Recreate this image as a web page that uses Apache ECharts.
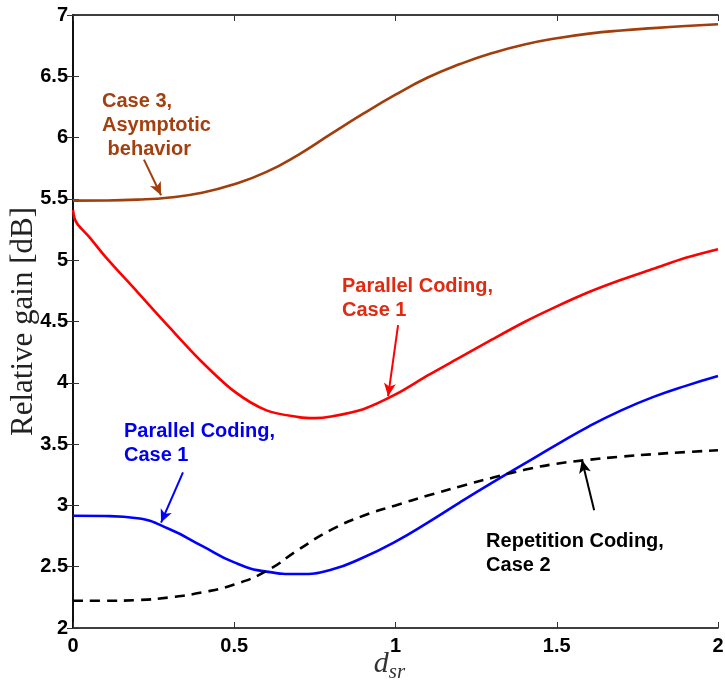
<!DOCTYPE html>
<html>
<head>
<meta charset="utf-8">
<script src="https://cdn.jsdelivr.net/npm/echarts@6/dist/echarts.min.js"></script>
<style>
  html, body { margin: 0; padding: 0; background: #fff; }
  #chart { width: 725px; height: 681px; }
</style>
</head>
<body>
<div id="chart"></div>
<script>
// Relay distance d_sr (shared sample grid)
const dsr = [0, 0.1, 0.2, 0.3, 0.4, 0.5, 0.6, 0.7, 0.8, 0.9, 1.0,
             1.1, 1.2, 1.3, 1.4, 1.5, 1.6, 1.7, 1.8, 1.9, 2.0];

// Case 3, asymptotic behavior
const case3Asym = [5.486, 5.487, 5.494, 5.512, 5.55, 5.62, 5.72, 5.862, 6.03, 6.195, 6.35,
                   6.49, 6.60, 6.69, 6.76, 6.81, 6.848, 6.874, 6.893, 6.91, 6.924];

// Parallel coding, case 1 (upper curve) -- finer grid near the origin
const dsrFine = [0, 0.005, 0.015, 0.05, 0.1, 0.2, 0.3, 0.4, 0.5, 0.6, 0.7, 0.75, 0.8, 0.9, 1.0,
                 1.1, 1.2, 1.3, 1.4, 1.5, 1.6, 1.7, 1.8, 1.9, 2.0];
const parallelUpper = [5.41, 5.34, 5.29, 5.19, 5.03, 4.74, 4.45, 4.17, 3.93, 3.775, 3.72, 3.712, 3.725, 3.785, 3.905,
                       4.06, 4.207, 4.354, 4.496, 4.623, 4.74, 4.84, 4.93, 5.02, 5.09];

// Parallel coding, case 1 (lower curve)
const parallelLower = [2.915, 2.913, 2.895, 2.805, 2.67, 2.535, 2.46, 2.44, 2.475, 2.575, 2.705,
                       2.86, 3.025, 3.185, 3.34, 3.495, 3.645, 3.775, 3.885, 3.975, 4.055];

// Repetition coding, case 2
const repetition = [2.222, 2.222, 2.228, 2.25, 2.29, 2.355, 2.465, 2.64, 2.80, 2.915, 3.0,
                    3.08, 3.155, 3.225, 3.29, 3.34, 3.372, 3.398, 3.418, 3.435, 3.45];

// Axis ticks
const xTicks = [0, 0.5, 1, 1.5, 2];
const yTicks = [2, 2.5, 3, 3.5, 4, 4.5, 5, 5.5, 6, 6.5, 7];

// Annotations: text anchor (top-left) and arrow [tail, head] in data units
const notes = [
  { lines: ['Case 3,', 'Asymptotic', ' behavior'], at: [0.09, 6.39], arrow: [[0.22, 5.82], [0.273, 5.53]], color: '#a23d0c', text: '#a3400f' },
  { lines: ['Parallel Coding,', 'Case 1'], at: [0.834, 4.88], arrow: [[1.008, 4.47], [0.977, 3.89]], color: '#ff0000', text: '#e02a12' },
  { lines: ['Parallel Coding,', 'Case 1'], at: [0.158, 3.70], arrow: [[0.341, 3.27], [0.273, 2.86]], color: '#0000ff', text: '#0000ee' },
  { lines: ['Repetition Coding,', 'Case 2'], at: [1.281, 2.80], arrow: [[1.616, 2.96], [1.578, 3.37]], color: '#000000', text: '#000000' }
];

const pairs = (xs, ys) => xs.map((x, i) => [x, ys[i]]);
const sansBold = { fontFamily: '"Liberation Sans", Arial, sans-serif', fontWeight: 'bold', fontSize: 20, color: '#000' };

function arrowLine(n) {
  return {
    silent: true,
    animation: false,
    symbolSize: [9, 13],
    label: { show: false },
    lineStyle: { color: n.color, width: 2, type: 'solid' },
    data: [[
      { coord: n.arrow[0], symbol: 'none' },
      { coord: n.arrow[1], symbol: 'arrow' }
    ]]
  };
}

const chart = echarts.init(document.getElementById('chart'), null, { renderer: 'canvas' });

const axisLineStyle = { show: true, lineStyle: { color: '#000', width: 1.5 } };
const tickStyle = { show: true, inside: true, length: 6, lineStyle: { color: '#333', width: 1 } };

chart.setOption({
  animation: false,
  backgroundColor: '#fff',
  grid: { left: 73, right: 7, top: 15, bottom: 53, containLabel: false, outerBoundsMode: 'none' },
  xAxis: [
    {
      type: 'value', min: 0, max: 2, interval: 0.5, position: 'bottom',
      axisLine: axisLineStyle, axisTick: tickStyle, splitLine: { show: false },
      axisLabel: Object.assign({ margin: 8, formatter: v => (xTicks.includes(v) ? String(v) : '') }, sansBold),
      name: '{d|d}{s|sr}', nameLocation: 'middle', nameGap: 21, nameMoveOverlap: false,
      nameTextStyle: {
        padding: [0, 12, 0, 0],
        rich: {
          d: { fontFamily: '"Liberation Serif", "DejaVu Serif", serif', fontStyle: 'italic', fontSize: 30, lineHeight: 30, color: '#333', verticalAlign: 'top' },
          s: { fontFamily: '"Liberation Serif", "DejaVu Serif", serif', fontStyle: 'italic', fontSize: 21, lineHeight: 21, color: '#333', verticalAlign: 'top', padding: [13, 0, 0, 0] }
        }
      }
    },
    {
      type: 'value', min: 0, max: 2, interval: 0.5, position: 'top',
      axisLine: axisLineStyle, axisTick: tickStyle, axisLabel: { show: false }, splitLine: { show: false }
    }
  ],
  yAxis: [
    {
      type: 'value', min: 2, max: 7, interval: 0.5, position: 'left',
      axisLine: axisLineStyle, axisTick: tickStyle, splitLine: { show: false },
      axisLabel: Object.assign({ margin: 5, formatter: v => (yTicks.includes(v) ? String(v) : '') }, sansBold),
      name: 'Relative gain [dB]', nameLocation: 'middle', nameRotate: 90, nameGap: 34, nameMoveOverlap: false,
      nameTextStyle: { fontFamily: '"Liberation Serif", "DejaVu Serif", serif', fontSize: 31, color: '#222' }
    },
    {
      type: 'value', min: 2, max: 7, interval: 0.5, position: 'right',
      axisLine: axisLineStyle, axisTick: tickStyle, axisLabel: { show: false }, splitLine: { show: false }
    }
  ],
  series: [
    {
      name: 'Case 3, Asymptotic behavior', type: 'line', smooth: true, showSymbol: false,
      data: pairs(dsr, case3Asym),
      lineStyle: { color: notes[0].color, width: 2.6 },
      markLine: arrowLine(notes[0])
    },
    {
      name: 'Parallel Coding, Case 1 (upper)', type: 'line', smooth: 0.3, showSymbol: false,
      data: pairs(dsrFine, parallelUpper),
      lineStyle: { color: notes[1].color, width: 2.6 },
      markLine: arrowLine(notes[1])
    },
    {
      name: 'Parallel Coding, Case 1 (lower)', type: 'line', smooth: true, showSymbol: false,
      data: pairs(dsr, parallelLower),
      lineStyle: { color: notes[2].color, width: 2.6 },
      markLine: arrowLine(notes[2])
    },
    {
      name: 'Repetition Coding, Case 2', type: 'line', smooth: true, showSymbol: false,
      data: pairs(dsr, repetition),
      lineStyle: { color: notes[3].color, width: 2.6, type: [10, 7] },
      markLine: arrowLine(notes[3])
    }
  ]
});

// Annotation text blocks, anchored in data coordinates
const graphics = notes.map(n => {
  const p = chart.convertToPixel({ xAxisIndex: 0, yAxisIndex: 0 }, n.at);
  return {
    type: 'text', left: p[0], top: p[1], silent: true,
    style: {
      text: n.lines.join('\n'),
      fill: n.text,
      font: 'bold 20px "Liberation Sans", Arial, sans-serif',
      lineHeight: 24
    }
  };
});
chart.setOption({ graphic: graphics });
</script>
</body>
</html>
